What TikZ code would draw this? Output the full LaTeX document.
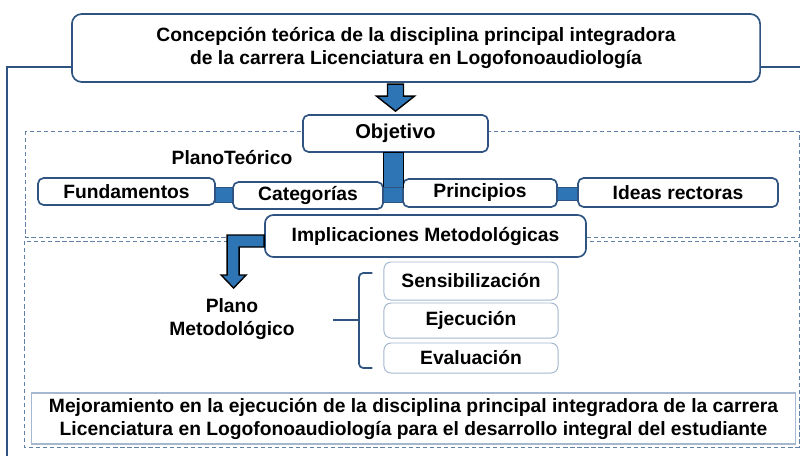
\documentclass[tikz,border=0pt]{standalone}
\usepackage{fontspec}
\setmainfont{Liberation Sans}
\usetikzlibrary{calc}
\definecolor{borde}{RGB}{47,84,130}
\definecolor{azul}{RGB}{46,117,182}
\definecolor{guion}{RGB}{96,128,165}
\definecolor{claro}{RGB}{165,184,207}
\newcommand\letra{\bfseries\fontsize{13.7}{16.4}\selectfont}
\tikzstyle{caja} = [draw=borde, line width=1.2pt, rounded corners=4pt, fill=white, inner sep=0pt, font=\letra]
\tikzstyle{etapa} = [draw=claro, line width=0.7pt, rounded corners=5pt, fill=white, inner sep=0pt, minimum width=4.35cm, font=\letra]
\tikzstyle{barra} = [fill=azul, draw=borde, line width=0.6pt]
\tikzstyle{flecha} = [fill=azul, draw=black, line width=1pt]
\tikzstyle{zona} = [draw=guion, line width=0.7pt, dash pattern=on 3pt off 2pt]

\begin{document}
\begin{tikzpicture}[x=0.025cm,y=-0.025cm]
\useasboundingbox (0,0) rectangle (800,455);
% marco y planos
\draw[borde, line width=1.3pt] (7,67) rectangle (820,470);
\draw[zona] (25,131) rectangle (799,237);
\draw[zona] (24,241) rectangle (799,447);
\node[caja, rounded corners=7pt, minimum width=17.2cm, minimum height=1.7cm, align=center] (conc) at (416,48) {Concepci\'on te\'orica de la disciplina principal integradora\\de la carrera Licenciatura en Logofonoaudiolog\'ia};
\node[caja, minimum width=4.625cm, minimum height=0.925cm, font=\bfseries\fontsize{14.3}{17}\selectfont] (obj) at (395.5,133.5) {Objetivo};
\node[font=\letra] (pteo) at (232,158) {PlanoTe\'orico};
\node[caja, minimum width=4.425cm, minimum height=0.675cm] (fund) at (126.5,191.5) {Fundamentos};
\node[caja, minimum width=3.75cm, minimum height=0.675cm] (cat) at (308,195.5) {Categor\'ias};
\node[caja, minimum width=3.85cm, minimum height=0.7cm] (prin) at (480,193) {Principios};
\node[caja, minimum width=5cm, minimum height=0.725cm] (ideas) at (678,192.5) {Ideas rectoras};
\node[caja, rounded corners=6pt, minimum width=8.025cm, minimum height=1.05cm] (impl) at (425.5,236) {Implicaciones Metodol\'ogicas};
\node[font=\letra, align=center] (pmet) at (232,319) {Plano\\Metodol\'ogico};
\node[etapa, minimum height=0.95cm] (sens) at (471,281) {Sensibilizaci\'on};
\node[etapa, minimum height=0.875cm] (ejec) at (471,320.5) {Ejecuci\'on};
\node[etapa, minimum height=0.75cm] (eval) at (471,358) {Evaluaci\'on};
\node[draw=claro, line width=0.8pt, fill=white, minimum width=19.075cm, minimum height=1.275cm, align=center, font=\letra] (mej) at (413.5,418.5) {Mejoramiento en la ejecuci\'on de la disciplina principal integradora de la carrera\\Licenciatura en Logofonoaudiolog\'ia para el desarrollo integral del estudiante};
% uniones
\draw[barra] ($(fund.east)+(0,-4.5)$) rectangle ($(cat.west)+(0,6.5)$);
\draw[barra] ($(prin.east)+(0,-6)$) rectangle ($(ideas.west)+(0,7.5)$);
\draw[barra, draw=black] ($(obj.south)+(-12.5,0)$) rectangle ($(obj.south)+(7.5,35)$);
\draw[barra] ($(cat.east)+(0,-8.5)$) rectangle ($(prin.west)+(0,9)$);
% flechas
\draw[flecha] (obj.north) ++(-8,-30) -- ++(16,0) -- ++(0,12) -- ++(11,0) -- ++(-19,15) -- ++(-19,-15) -- ++(11,0) -- cycle;
\draw[flecha] (impl.west) ++(0,-1) -- ++(-37,0) -- ++(0,40) -- ++(-6,0) -- ++(12.5,13) -- ++(12.5,-13) -- ++(-7,0) -- ++(0,-28) -- ++(25,0) -- cycle;
% llave
\coordinate (llave) at (333,320);
\draw[borde, line width=1.2pt, rounded corners=3pt] ($(sens.west)+(-11,-8)$) -| ($(llave)+(26,0)$) |- ($(eval.west)+(-11,10)$);
\draw[borde, line width=1.2pt] (llave) -- ++(26,0);
\end{tikzpicture}
\end{document}
